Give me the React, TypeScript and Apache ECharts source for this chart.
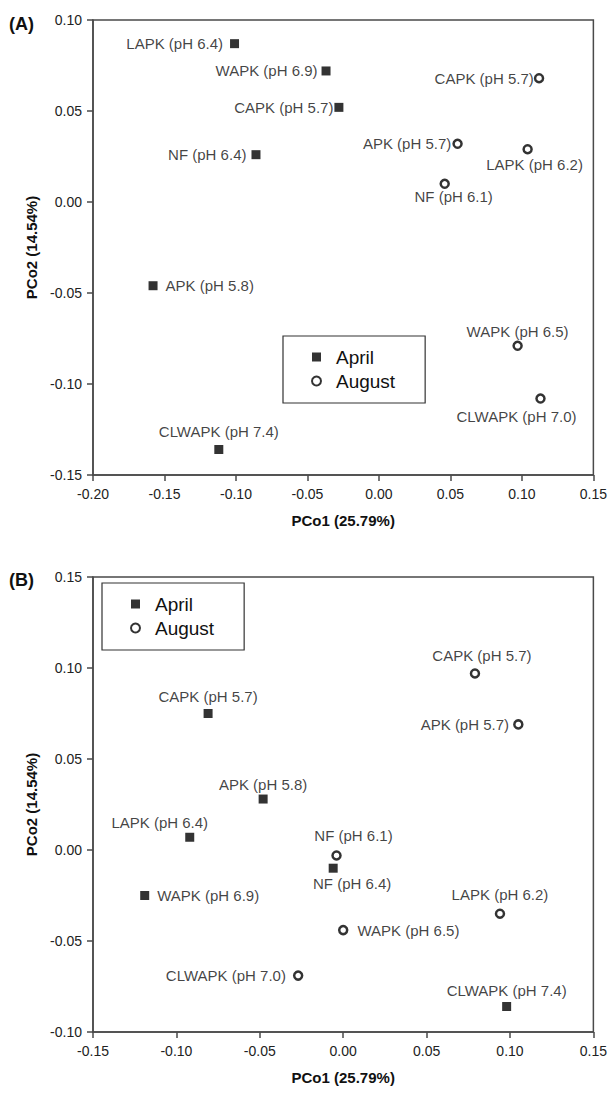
import React, { useEffect, useRef } from "react";
import * as echarts from "echarts";

// ---------- Data ----------
// Panel A
const aAprilNames = ["LAPK (pH 6.4)", "WAPK (pH 6.9)", "CAPK (pH 5.7)", "NF (pH 6.4)", "APK (pH 5.8)", "CLWAPK (pH 7.4)"];
const aAprilX = [-0.101, -0.037, -0.028, -0.086, -0.158, -0.112];
const aAprilY = [0.087, 0.072, 0.052, 0.026, -0.046, -0.136];

const aAugustNames = ["CAPK (pH 5.7)", "APK (pH 5.7)", "LAPK (pH 6.2)", "NF (pH 6.1)", "WAPK (pH 6.5)", "CLWAPK (pH 7.0)"];
const aAugustX = [0.112, 0.055, 0.104, 0.046, 0.097, 0.113];
const aAugustY = [0.068, 0.032, 0.029, 0.010, -0.079, -0.108];

// Panel B
const bAprilNames = ["CAPK (pH 5.7)", "APK (pH 5.8)", "LAPK (pH 6.4)", "WAPK (pH 6.9)", "NF (pH 6.4)", "CLWAPK (pH 7.4)"];
const bAprilX = [-0.081, -0.048, -0.092, -0.119, -0.006, 0.098];
const bAprilY = [0.075, 0.028, 0.007, -0.025, -0.010, -0.086];

const bAugustNames = ["CAPK (pH 5.7)", "APK (pH 5.7)", "NF (pH 6.1)", "LAPK (pH 6.2)", "WAPK (pH 6.5)", "CLWAPK (pH 7.0)"];
const bAugustX = [0.079, 0.105, -0.004, 0.094, 0.000, -0.027];
const bAugustY = [0.097, 0.069, -0.003, -0.035, -0.044, -0.069];

const seriesNames = ["April", "August"];
const xTitle = "PCo1 (25.79%)";
const yTitle = "PCo2 (14.54%)";
const panelLabels = ["(A)", "(B)"];

// Axis ranges
const aXRange = [-0.2, 0.15];
const aYRange = [-0.15, 0.1];
const bXRange = [-0.15, 0.15];
const bYRange = [-0.1, 0.15];
const tickStep = 0.05;

// ---------- Label placement (style, kept apart from data) ----------
type Place = { position: string; distance: number; offset?: [number, number] };
const aAprilPlace: Place[] = [
  { position: "left", distance: 7 },
  { position: "left", distance: 4 },
  { position: "left", distance: 1 },
  { position: "left", distance: 5 },
  { position: "right", distance: 8 },
  { position: "top", distance: 6 },
];
const aAugustPlace: Place[] = [
  { position: "left", distance: 0 },
  { position: "left", distance: 1 },
  { position: "bottom", distance: 3, offset: [7, 0] },
  { position: "bottom", distance: 0, offset: [9, 0] },
  { position: "top", distance: 2 },
  { position: "bottom", distance: 5, offset: [-24, 0] },
];
const bAprilPlace: Place[] = [
  { position: "top", distance: 5 },
  { position: "top", distance: 3 },
  { position: "top", distance: 3, offset: [-30, 0] },
  { position: "right", distance: 8 },
  { position: "bottom", distance: 3, offset: [19, 0] },
  { position: "top", distance: 4 },
];
const bAugustPlace: Place[] = [
  { position: "top", distance: 5, offset: [7, 0] },
  { position: "left", distance: 4 },
  { position: "top", distance: 7, offset: [17, 0] },
  { position: "top", distance: 6 },
  { position: "right", distance: 9 },
  { position: "left", distance: 7 },
];

const FONT = "Arial, 'Liberation Sans', Helvetica, sans-serif";
const AXIS_COLOR = "#4a4a4a";
const TEXT_COLOR = "#111";

function buildData(names: string[], xs: number[], ys: number[], places: Place[]) {
  return xs.map((x, i) => ({
    name: names[i],
    value: [x, ys[i]],
    label: {
      show: true,
      position: places[i].position,
      distance: places[i].distance,
      offset: places[i].offset || [0, 0],
    },
  }));
}

const fmt = (v: number) => (Math.abs(v) < 1e-9 ? "0.00" : v.toFixed(2));

function makeXAxis(gridIndex: number, range: number[]) {
  return {
    type: "value",
    gridIndex,
    min: range[0],
    max: range[1],
    interval: tickStep,
    name: xTitle,
    nameLocation: "middle",
    nameGap: 38,
    nameTextStyle: { fontFamily: FONT, fontSize: 15, fontWeight: "bold", color: TEXT_COLOR },
    axisLine: { show: true, onZero: false, lineStyle: { color: AXIS_COLOR, width: 1.5 } },
    axisTick: { show: true, inside: false, length: 6, lineStyle: { color: AXIS_COLOR, width: 1.5 } },
    axisLabel: { formatter: fmt, fontFamily: FONT, fontSize: 14, color: "#222", margin: 12 },
    splitLine: { show: false },
  };
}

function makeYAxis(gridIndex: number, range: number[]) {
  return {
    type: "value",
    gridIndex,
    min: range[0],
    max: range[1],
    interval: tickStep,
    name: yTitle,
    nameLocation: "middle",
    nameRotate: 90,
    nameGap: 51,
    nameTextStyle: { fontFamily: FONT, fontSize: 15, fontWeight: "bold", color: TEXT_COLOR },
    axisLine: { show: true, onZero: false, lineStyle: { color: AXIS_COLOR, width: 1.5 } },
    axisTick: { show: true, inside: false, length: 6, lineStyle: { color: AXIS_COLOR, width: 1.5 } },
    axisLabel: { formatter: fmt, fontFamily: FONT, fontSize: 14, color: "#222", margin: 11 },
    splitLine: { show: false },
  };
}

const labelStyle = { fontFamily: FONT, fontSize: 15, color: TEXT_COLOR, formatter: "{b}" };

function aprilSeries(idx: number, data: any[]) {
  return {
    name: seriesNames[0],
    type: "scatter",
    xAxisIndex: idx,
    yAxisIndex: idx,
    symbol: "rect",
    symbolSize: 9,
    itemStyle: { color: "#000", borderColor: "#000", borderWidth: 0 },
    label: labelStyle,
    data,
  };
}
function augustSeries(idx: number, data: any[]) {
  return {
    name: seriesNames[1],
    type: "scatter",
    xAxisIndex: idx,
    yAxisIndex: idx,
    symbol: "circle",
    symbolSize: 8,
    itemStyle: { color: "#fff", borderColor: "#000", borderWidth: 2.5 },
    label: labelStyle,
    data,
  };
}

function makeLegend(left: number, top: number) {
  return {
    orient: "vertical",
    left,
    top,
    data: seriesNames,
    itemWidth: 9,
    itemHeight: 9,
    itemGap: 2,
    padding: [10, 30, 11, 28],
    borderColor: "#333",
    borderWidth: 1.2,
    backgroundColor: "#fff",
    selectedMode: false,
    textStyle: { fontFamily: FONT, fontSize: 19, color: TEXT_COLOR, lineHeight: 22, padding: [0, 0, 0, 10] },
  };
}

export default function App() {
  const ref = useRef<HTMLDivElement>(null);
  useEffect(() => {
    if (!ref.current) return;
    const chart = echarts.init(ref.current, undefined, { renderer: "svg" });
    const option: any = {
      animation: false,
      backgroundColor: "#fff",
      grid: [
        { left: 93, top: 20, width: 503, height: 455, show: true, borderColor: AXIS_COLOR, borderWidth: 1.5, backgroundColor: "transparent" },
        { left: 93, top: 577, width: 502, height: 455, show: true, borderColor: AXIS_COLOR, borderWidth: 1.5, backgroundColor: "transparent" },
      ],
      xAxis: [makeXAxis(0, aXRange), makeXAxis(1, bXRange)],
      yAxis: [makeYAxis(0, aYRange), makeYAxis(1, bYRange)],
      legend: [makeLegend(283, 336), makeLegend(102, 583)],
      series: [
        aprilSeries(0, buildData(aAprilNames, aAprilX, aAprilY, aAprilPlace)),
        augustSeries(0, buildData(aAugustNames, aAugustX, aAugustY, aAugustPlace)),
        aprilSeries(1, buildData(bAprilNames, bAprilX, bAprilY, bAprilPlace)),
        augustSeries(1, buildData(bAugustNames, bAugustX, bAugustY, bAugustPlace)),
      ],
      graphic: [
        { type: "text", left: 9, top: 15, style: { text: panelLabels[0], font: `bold 18px ${FONT}`, fill: "#111" } },
        { type: "text", left: 9, top: 571, style: { text: panelLabels[1], font: `bold 18px ${FONT}`, fill: "#111" } },
      ],
    };
    chart.setOption(option);
    return () => chart.dispose();
  }, []);
  return (
    <div
      ref={ref}
      style={{ position: "absolute", left: 0, top: 0, width: 610, height: 1093 }}
    />
  );
}
